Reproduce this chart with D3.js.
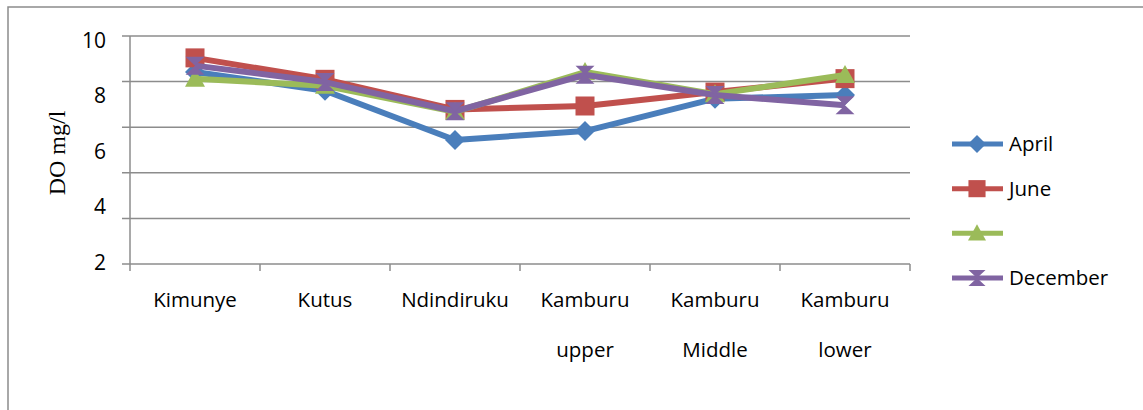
<!DOCTYPE html>
<html><head><meta charset="utf-8">
<script src="https://cdn.jsdelivr.net/npm/d3@7"></script>
<style>body{margin:0;background:#fff}svg{display:block}</style>
</head><body>
<svg id="c" width="1143" height="410"></svg>
<script>
const categories = ["Kimunye","Kutus","Ndindiruku","Kamburu upper","Kamburu Middle","Kamburu lower"];
const seriesNames = ["April","June","","December"];
const april = [8.42, 7.6, 5.44, 5.83, 7.25, 7.41];
const june = [9.04, 8.1, 6.78, 6.93, 7.54, 8.13];
const third = [8.12, 7.82, 6.67, 8.42, 7.45, 8.29];
const december = [8.7, 7.98, 6.7, 8.3, 7.41, 6.96];
const yTickLabels = ["10","8","6","4","2"];
const gridValues = [0,2,4,6,8,10];

const colors = ["#4A7EBB","#C0504D","#9BBB59","#8064A2"];
const seriesData = [april, june, third, december];
const sans = "'Open Sans', 'Noto Sans', sans-serif";

const svg = d3.select("#c");
svg.append("path").attr("d","M8,410 L8,7 L1143,7").attr("fill","none").attr("stroke","#8c8c8c").attr("stroke-width",1.5);

const x = d3.scaleBand().domain(categories).range([130,910]);
const y = d3.scaleLinear().domain([0,10]).range([264,36]);
const yLab = d3.scalePoint().domain(yTickLabels).range([40,262]);

svg.append("g").selectAll("line").data(gridValues).join("line")
  .attr("x1",122).attr("x2",910).attr("y1",d=>y(d)).attr("y2",d=>y(d))
  .attr("stroke","#8c8c8c").attr("stroke-width",1.5);
svg.append("line").attr("x1",130).attr("x2",130).attr("y1",y(10)).attr("y2",y(0)).attr("stroke","#8c8c8c").attr("stroke-width",1.5);
const bounds = categories.map(c=>x(c)).concat([x.range()[1]]);
svg.append("g").selectAll("line").data(bounds).join("line")
  .attr("x1",d=>d).attr("x2",d=>d).attr("y1",264).attr("y2",271)
  .attr("stroke","#8c8c8c").attr("stroke-width",1.5);

svg.append("g").selectAll("text").data(yTickLabels).join("text")
  .attr("x",106).attr("y",d=>yLab(d)).attr("dy","0.36em").attr("text-anchor","end")
  .attr("font-family",sans).attr("font-size",21).attr("fill","#000").text(d=>d);

svg.append("text").attr("transform","translate(65,153) rotate(-90)").attr("text-anchor","middle")
  .attr("font-family","'Liberation Serif', 'DejaVu Serif', serif").attr("font-size",24).text("DO mg/l");

const xl = svg.append("g").selectAll("text").data(categories).join("text")
  .attr("x",d=>x(d)+x.bandwidth()/2).attr("y",307).attr("text-anchor","middle")
  .attr("font-family",sans).attr("font-size",20.5).attr("fill","#000");
xl.each(function(d){
  const parts = d.split(" ");
  const t = d3.select(this);
  parts.forEach((p,i)=>t.append("tspan").attr("x",x(d)+x.bandwidth()/2).attr("dy",i===0?0:50).text(p));
});

function marker(g, i, cx, cy, s){
  const c = colors[i];
  if(i===0){
    g.append("path").attr("d",`M${cx},${cy-s} L${cx+s},${cy} L${cx},${cy+s} L${cx-s},${cy} Z`).attr("fill",c);
  } else if(i===1){
    g.append("rect").attr("x",cx-s*0.95).attr("y",cy-s*0.95).attr("width",s*1.9).attr("height",s*1.9).attr("fill",c);
  } else if(i===2){
    g.append("path").attr("d",`M${cx},${cy-s} L${cx+s},${cy+s*0.8} L${cx-s},${cy+s*0.8} Z`).attr("fill",c);
  } else {
    g.append("path").attr("d",`M${cx-s*0.95},${cy-s*0.9} L${cx+s*0.95},${cy-s*0.9} L${cx-s*0.95},${cy+s*0.9} L${cx+s*0.95},${cy+s*0.9} Z`).attr("fill",c);
  }
}

const line = d3.line().x((d,i)=>x(categories[i])+x.bandwidth()/2).y(d=>y(d));
seriesData.forEach((vals,i)=>{
  const g = svg.append("g");
  g.append("path").attr("d",line(vals)).attr("fill","none").attr("stroke",colors[i]).attr("stroke-width",6).attr("stroke-linejoin","round");
  vals.forEach((v,j)=>marker(g,i,x(categories[j])+x.bandwidth()/2,y(v),10));
});

const ly = d3.scalePoint().domain(seriesNames.map((n,i)=>i)).range([144,278]);
seriesNames.forEach((n,i)=>{
  const g = svg.append("g");
  const yy = ly(i);
  g.append("line").attr("x1",952).attr("x2",1003).attr("y1",yy).attr("y2",yy).attr("stroke",colors[i]).attr("stroke-width",5);
  marker(g,i,977,yy,9);
  g.append("text").attr("x",1009).attr("y",yy).attr("dy","0.36em").attr("font-family",sans).attr("font-size",20.5).text(n);
});
</script>
</body></html>
